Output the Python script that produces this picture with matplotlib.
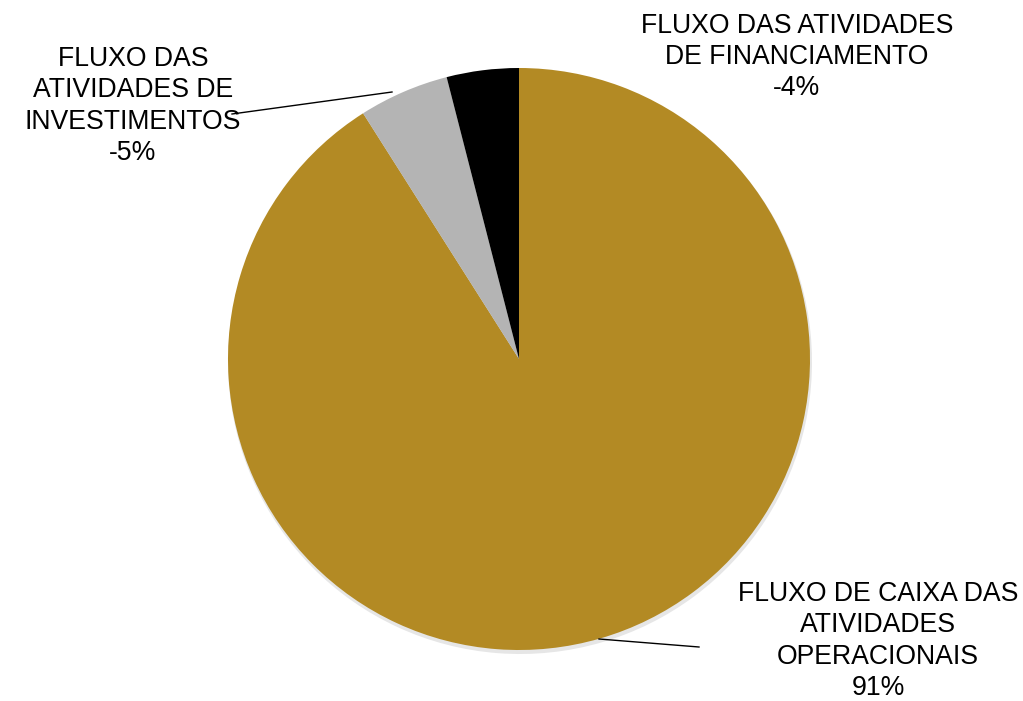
import matplotlib
matplotlib.use("Agg")
import matplotlib.pyplot as plt

# cash flow shares (absolute values drive the slice sizes)
categories = ["FLUXO DE CAIXA DAS\nATIVIDADES\nOPERACIONAIS",
              "FLUXO DAS\nATIVIDADES DE\nINVESTIMENTOS",
              "FLUXO DAS ATIVIDADES\nDE FINANCIAMENTO"]
shares = [91, -5, -4]
colors = ["#B38A24", "#B4B4B4", "#000000"]

plt.rcParams["font.family"] = ["Liberation Sans", "DejaVu Sans"]

fig = plt.figure(figsize=(10.23, 7.01), dpi=100)
ax = fig.add_axes([0, 0, 1, 1])

center = (519, 359)
radius = 291

# soft shadow under the pie
ax.pie([abs(v) for v in shares], colors=["#e6e6e6"] * 3, radius=radius + 1,
       center=(center[0] + 1, center[1] + 3), startangle=-90,
       counterclock=True, wedgeprops=dict(linewidth=0), frame=True)
# y axis is flipped, so counterclock=True draws clockwise on screen
wedges, _ = ax.pie([abs(v) for v in shares], colors=colors, radius=radius,
                   center=center, startangle=-90, counterclock=True,
                   wedgeprops=dict(linewidth=0), frame=True)
ax.set_xlim(0, 1023)
ax.set_ylim(701, 0)
ax.set_aspect("equal")
ax.axis("off")

labels = [f"{c}\n{v}%" for c, v in zip(categories, shares)]
label_pos = [(878, 641), (133, 106), (797, 57)]
for lab, (x, y) in zip(labels, label_pos):
    ax.text(x, y, lab, ha="center", va="center", fontsize=19.2,
            linespacing=1.27, color="black")

# leader lines
ax.plot([599, 699], [639, 647], color="black", lw=1)
ax.plot([392, 232], [92, 114], color="black", lw=1)

fig.savefig("out.png", dpi=100)
